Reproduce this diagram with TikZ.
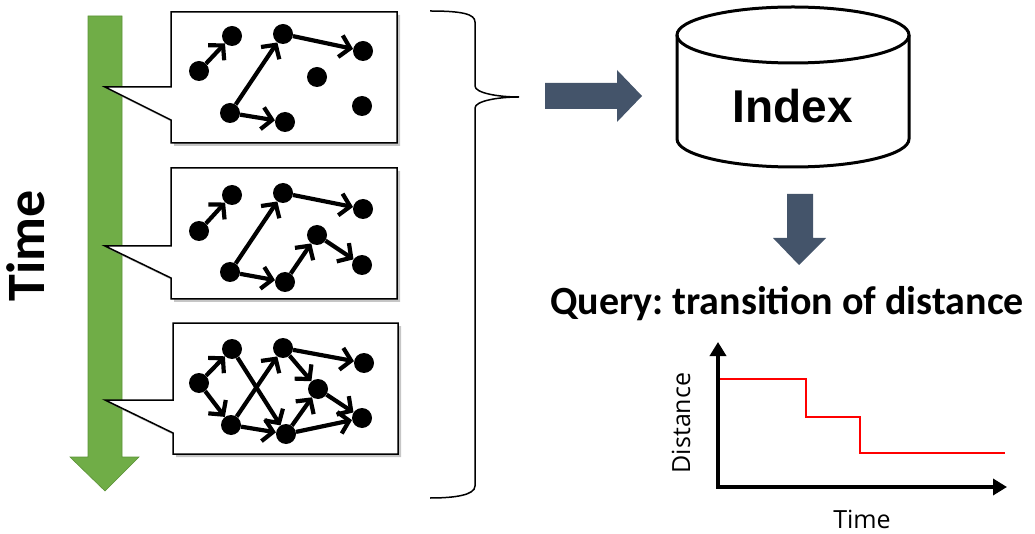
\documentclass[tikz,border=0pt]{standalone}
\usepackage{fontspec}
\newfontfamily\carlito{Carlito}
\newfontfamily\libsans{Liberation Sans}
\newfontfamily\opensans{Open Sans}
\usetikzlibrary{arrows.meta,shadows}
\definecolor{tgreen}{HTML}{70AD47}
\definecolor{tgreenD}{HTML}{5B9237}
\definecolor{slate}{HTML}{44546A}
\frenchspacing
\begin{document}
\begin{tikzpicture}[x=1pt,y=-1pt,
  dot/.style={circle,fill=black,minimum size=20pt,inner sep=0pt},
  edge/.style={line width=4.2pt,-{Straight Barb[length=10pt,width=22pt]}},
  callout/.style={draw=black,line width=1.5pt,fill=white,drop shadow={shadow xshift=3pt,shadow yshift=-3pt,opacity=0.45}},
  blockarrow/.style={fill=slate},
  axes/.style={line width=4pt,line join=miter,{Triangle[length=14pt,width=16pt]}-{Triangle[length=14pt,width=16pt]}}]
\useasboundingbox (0,0) rectangle (1035,534);

% green time arrow
\draw[fill=tgreen,draw=tgreenD,line width=0.6pt] (88,16) -- (122,16) -- (122,457) -- (139,457) -- (105,491) -- (70,457) -- (88,457) -- cycle;
\node[rotate=90,anchor=base,font=\carlito\bfseries\fontsize{54}{60}\selectfont] (timeL) at (44,246) {Time};

% callout boxes
\path[callout] (171,12) -- (397,12) -- (397,143) -- (171,143) -- (171,120) -- (105,87) -- (171,87) -- cycle;
\path[callout] (171,168) -- (397,168) -- (397,299) -- (171,299) -- (171,278) -- (105,246) -- (171,246) -- cycle;
\path[callout] (173,323) -- (398,323) -- (398,454) -- (173,454) -- (173,433) -- (105,400) -- (173,400) -- cycle;

% graph 1
\node[dot] (a1) at (199,71) {};
\node[dot] (b1) at (232,36) {};
\node[dot] (c1) at (283,34) {};
\node[dot] (d1) at (363,51) {};
\node[dot] (e1) at (317,77) {};
\node[dot] (f1) at (362,106) {};
\node[dot] (g1) at (230,113) {};
\node[dot] (h1) at (285,122) {};
\draw[edge] (a1) -- (b1);
\draw[edge] (g1) -- (c1);
\draw[edge] (c1) -- (d1);
\draw[edge] (g1) -- (h1);

% graph 2
\node[dot] (a2) at (199,231) {};
\node[dot] (b2) at (232,195) {};
\node[dot] (c2) at (283,193) {};
\node[dot] (d2) at (363,209) {};
\node[dot] (e2) at (317,235) {};
\node[dot] (f2) at (362,265) {};
\node[dot] (g2) at (230,272) {};
\node[dot] (h2) at (285,282) {};
\draw[edge] (a2) -- (b2);
\draw[edge] (g2) -- (c2);
\draw[edge] (c2) -- (d2);
\draw[edge] (g2) -- (h2);
\draw[edge] (h2) -- (e2);
\draw[edge] (e2) -- (f2);

% graph 3
\node[dot] (a3) at (199,383) {};
\node[dot] (b3) at (232,349) {};
\node[dot] (c3) at (283,348) {};
\node[dot] (d3) at (364,363) {};
\node[dot] (e3) at (318,389) {};
\node[dot] (f3) at (362,418) {};
\node[dot] (g3) at (231,425) {};
\node[dot] (h3) at (286,434) {};
\draw[edge] (a3) -- (b3);
\draw[edge] (a3) -- (g3);
\draw[edge] (b3) -- (h3);
\draw[edge] (g3) -- (c3);
\draw[edge] (g3) -- (h3);
\draw[edge] (c3) -- (d3);
\draw[edge] (c3) -- (e3);
\draw[edge] (h3) -- (e3);
\draw[edge] (e3) -- (f3);
\draw[edge] (h3) -- (f3);

% brace
\draw[line width=1.5pt] (430,11) .. controls (462,11) and (475,14) .. (475,22) -- (475,86)
  .. controls (475,93) and (498,97) .. (519,97)
  .. controls (498,97) and (475,101) .. (475,108) -- (475,486)
  .. controls (475,495) and (455,498) .. (430,498);

% block arrows
\path[blockarrow] (545,83) -- (617,83) -- (617,70) -- (642,96) -- (617,122) -- (617,109) -- (545,109) -- cycle;
\path[blockarrow] (787,194) -- (813,194) -- (813,238) -- (826,238) -- (799,265) -- (773,238) -- (787,238) -- cycle;

% index cylinder
\draw[line width=3pt,fill=white] (677,35) -- (677,139) arc[start angle=180,end angle=0,x radius=116,y radius=28] -- (909,35);
\draw[line width=3pt] (793,35) ellipse[x radius=116,y radius=28];
\node[anchor=base,font=\libsans\bfseries\fontsize{46}{50}\selectfont] (index) at (793,123) {Index};

% query
\node[anchor=base,font=\carlito\bfseries\fontsize{40}{44}\selectfont] (query) at (787,314) {Query: transition of distance};

% chart
\coordinate (o) at (718,487);
\coordinate (ytip) at (718,342);
\coordinate (xtip) at (1007,487);
\draw[red,line width=1.5pt] (718,379) -- (806,379) -- (806,417) -- (860,417) -- (860,453) -- (1005,453);
\draw[axes] (ytip) -- (o) -- (xtip);
\node[rotate=90,anchor=base,font=\opensans\fontsize{25}{30}\selectfont] (dist) at (690,423) {Distance};
\node[anchor=base,font=\opensans\fontsize{25}{30}\selectfont] (timeX) at (862,528) {Time};
\end{tikzpicture}
\end{document}
